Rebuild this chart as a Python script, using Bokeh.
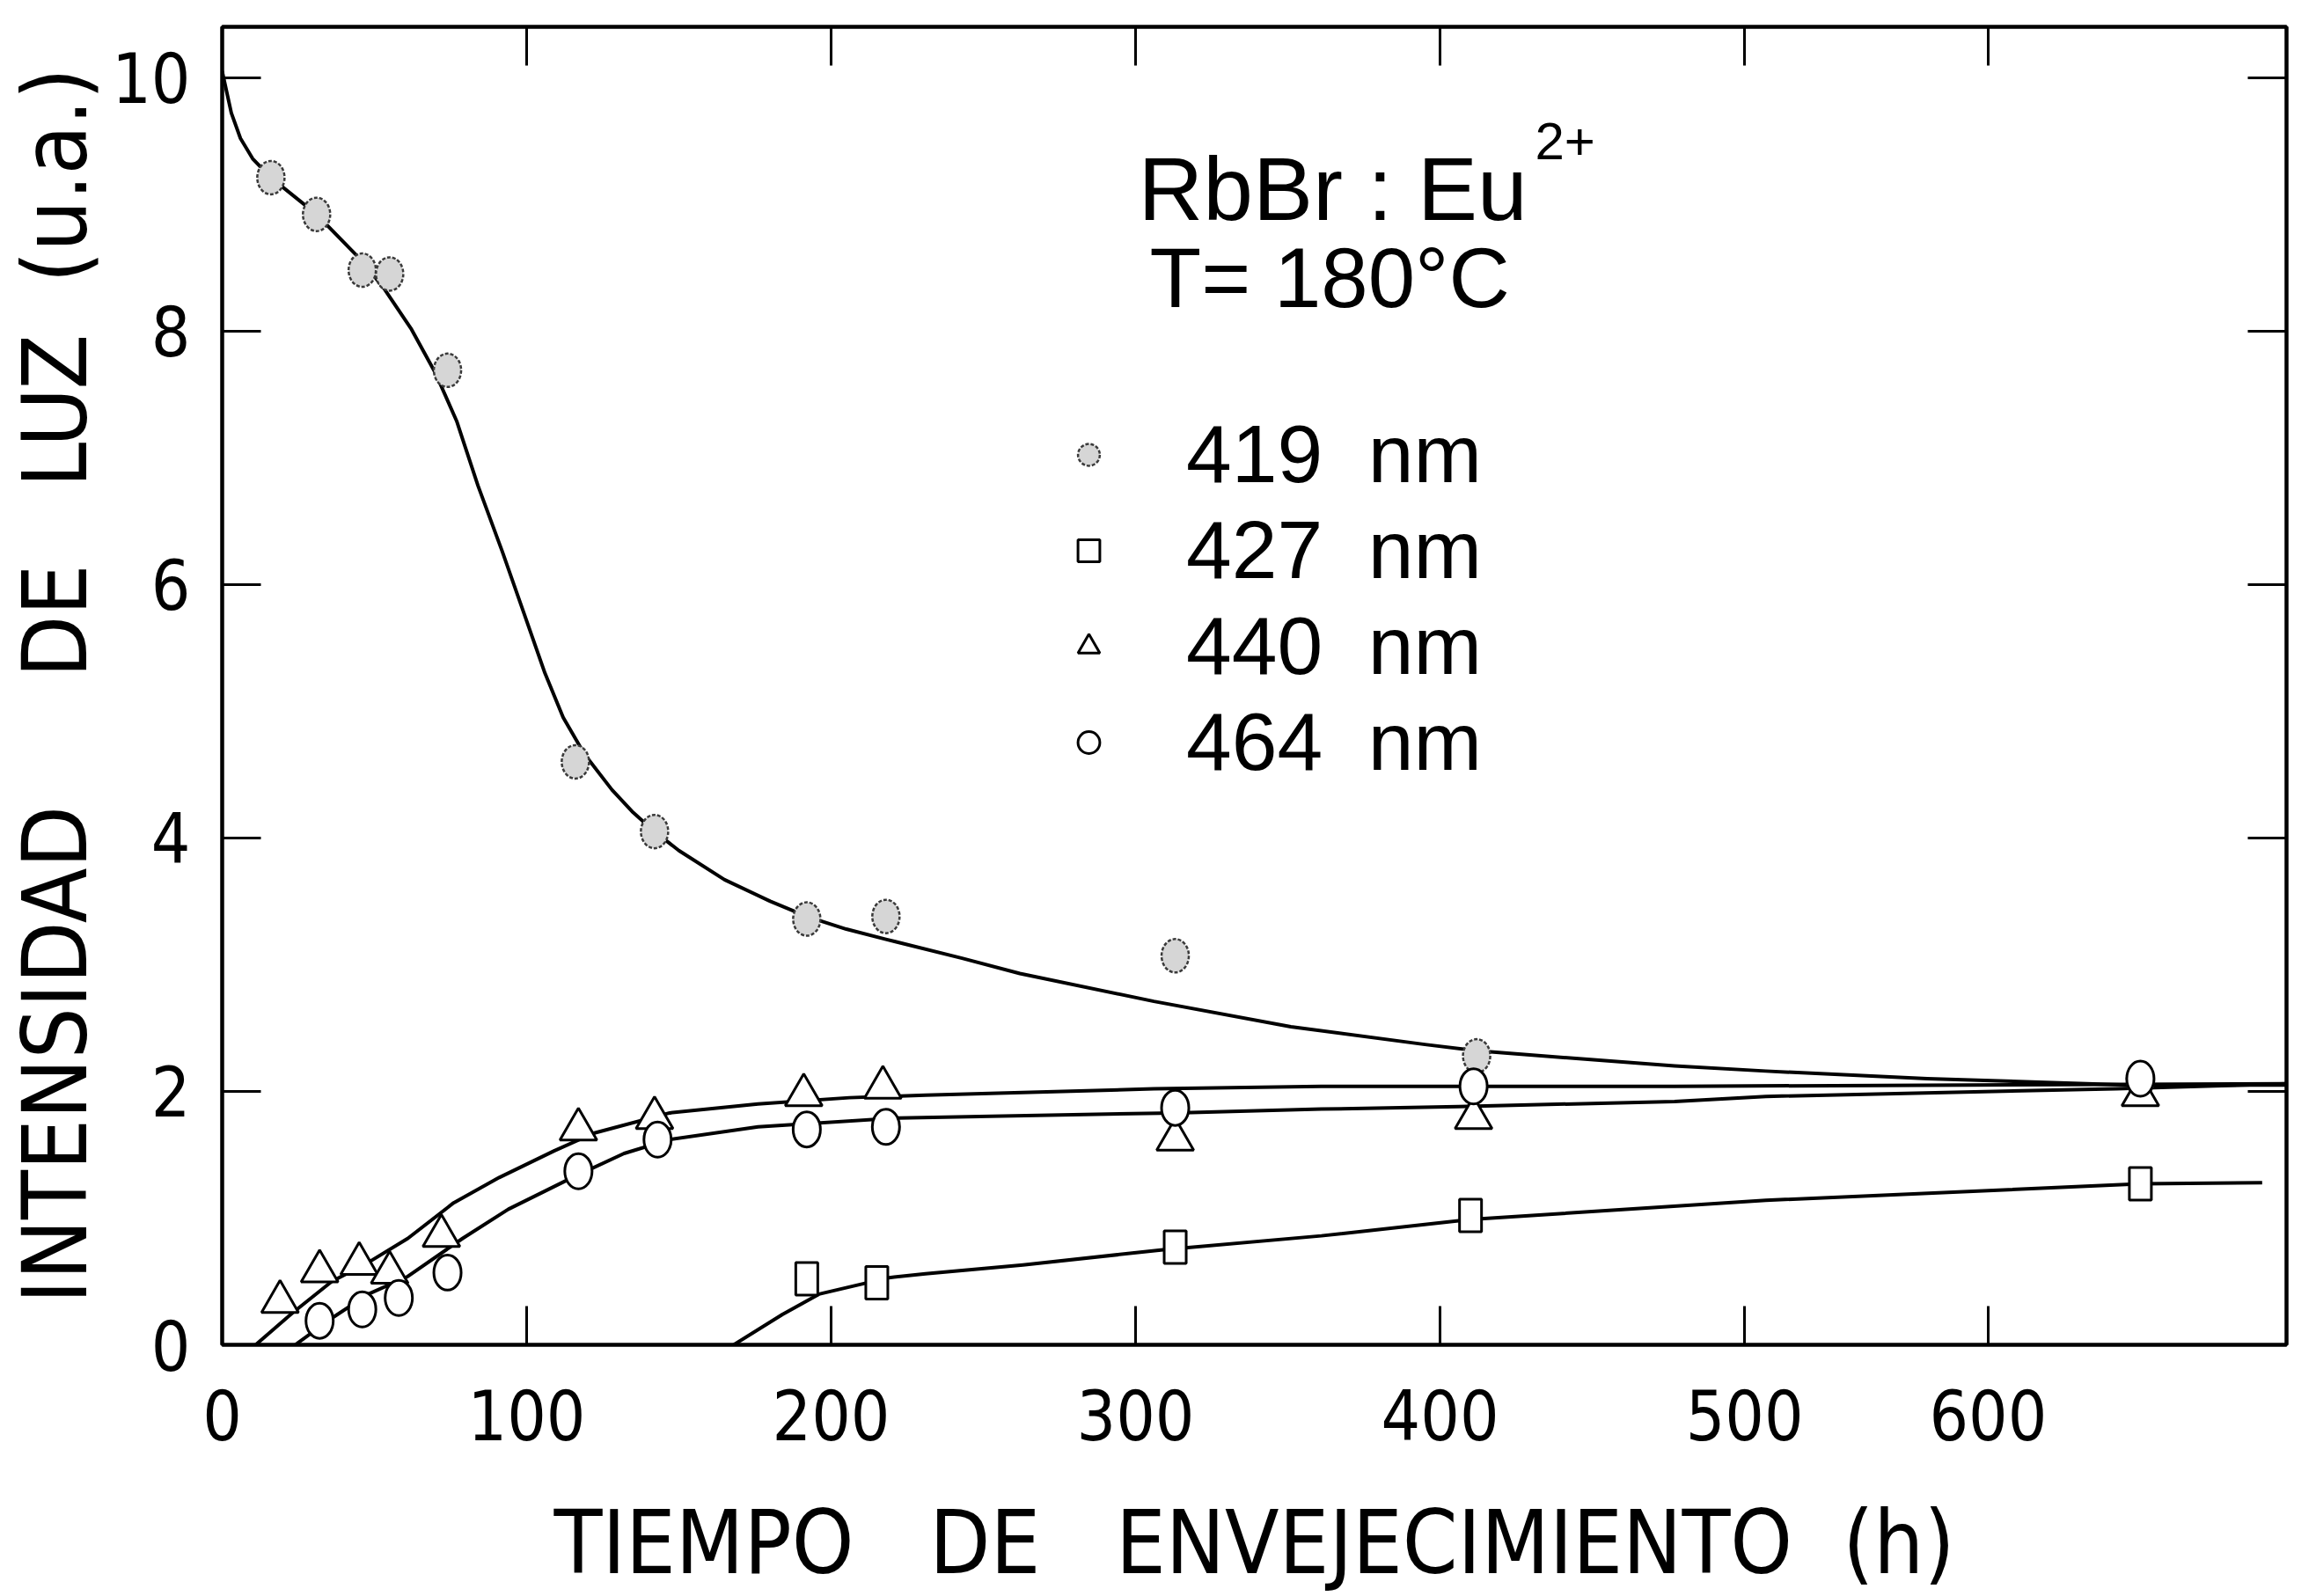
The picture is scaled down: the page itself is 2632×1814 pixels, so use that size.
from bokeh.plotting import figure
from bokeh.models import LinearAxis, FixedTicker, Range1d, Label, Legend, LegendItem
from bokeh.embed import file_html
from bokeh.resources import INLINE

# ---------------- data ----------------
# measured points: ageing time (h) and light intensity (a.u.)
t419 = [16, 31, 46, 55, 74, 116, 142, 192, 218, 313, 412, 630]
i419 = [9.21, 8.92, 8.48, 8.45, 7.69, 4.60, 4.05, 3.36, 3.38, 3.07, 2.28, 2.09]
t427 = [192, 215, 313, 410, 630]
i427 = [0.52, 0.49, 0.77, 1.02, 1.27]
t440 = [19, 32, 45, 55, 72, 117, 142, 191, 217, 313, 411, 630]
i440 = [0.34, 0.58, 0.64, 0.57, 0.86, 1.70, 1.79, 1.97, 2.03, 1.62, 1.79, 1.97]
t464 = [32, 46, 58, 74, 117, 143, 192, 218, 313, 411, 630]
i464 = [0.19, 0.28, 0.37, 0.57, 1.37, 1.62, 1.70, 1.72, 1.87, 2.04, 2.10]

# hand-drawn guide curves
c419_t = [0, 3, 6, 10, 16, 31, 46, 53, 62, 70, 77, 84, 92, 99, 106, 112, 119, 128, 135,
          142, 150, 165, 180, 192, 205, 218, 243, 262, 306, 351, 395, 412, 477, 507, 560,
          626, 679]
c419_i = [10.05, 9.72, 9.52, 9.36, 9.21, 8.92, 8.55, 8.34, 8.02, 7.67, 7.29, 6.78, 6.26,
          5.78, 5.30, 4.95, 4.66, 4.38, 4.20, 4.05, 3.90, 3.67, 3.50, 3.38, 3.28, 3.20,
          3.05, 2.93, 2.71, 2.51, 2.37, 2.32, 2.20, 2.16, 2.10, 2.05, 2.05]
c427_t = [168, 184, 196, 212, 219, 231, 263, 309, 361, 410, 507, 630, 670]
c427_i = [0.0, 0.24, 0.40, 0.49, 0.53, 0.56, 0.63, 0.75, 0.86, 0.99, 1.14, 1.27, 1.28]
c440_t = [11, 23, 36, 48, 61, 76, 91, 109, 122, 147, 176, 206, 231, 306, 361, 406, 477, 679]
c440_i = [0.0, 0.25, 0.50, 0.65, 0.84, 1.12, 1.32, 1.53, 1.67, 1.83, 1.90, 1.95, 1.97,
          2.02, 2.04, 2.04, 2.04, 2.06]
c464_t = [24, 36, 48, 61, 79, 94, 115, 132, 147, 176, 222, 313, 361, 406, 477, 507, 622, 679]
c464_i = [0.0, 0.21, 0.40, 0.54, 0.84, 1.07, 1.32, 1.51, 1.62, 1.72, 1.79, 1.83, 1.86,
          1.88, 1.92, 1.96, 2.02, 2.06]

# axis ticks (the 600 mark sits where it is drawn on the original axis)
x_ticks = [0, 100, 200, 300, 400, 500, 580]
x_tick_labels = ["0", "100", "200", "300", "400", "500", "600"]
y_ticks = [0, 2, 4, 6, 8, 10]

series_names = ["419\u00a0\u00a0nm", "427\u00a0\u00a0nm", "440\u00a0\u00a0nm", "464\u00a0\u00a0nm"]

NB = "\u00a0"
NARROW = "DejaVu Sans Condensed"
SANS = "Liberation Sans"

p = figure(width=2632, height=1814, output_backend="svg", toolbar_location=None,
           x_range=Range1d(0, 678), y_range=Range1d(0, 10.4),
           x_axis_location=None, y_axis_location=None,
           min_border_left=252, min_border_right=34, min_border_top=30, min_border_bottom=283)
p.grid.visible = False
p.outline_line_color = "black"
p.outline_line_width = 4
p.background_fill_color = "white"
p.border_fill_color = "white"

def style_axis(ax, labels=True):
    ax.axis_line_color = "black"
    ax.axis_line_width = 4
    ax.major_tick_in = 44
    ax.major_tick_out = 0
    ax.major_tick_line_width = 3
    ax.minor_tick_line_color = None
    if labels:
        ax.major_label_text_font = NARROW
        ax.major_label_text_font_size = "78px"
        ax.major_label_text_color = "black"
    else:
        ax.major_label_text_font_size = "1px"
        ax.major_label_text_color = None
        ax.major_label_standoff = 0

xb = LinearAxis(ticker=FixedTicker(ticks=x_ticks),
                major_label_overrides={t: s for t, s in zip(x_ticks, x_tick_labels)})
style_axis(xb)
xb.major_label_standoff = 50
xb.axis_label = "TIEMPO" + NB * 3 + "DE" + NB * 3 + "ENVEJECIMIENTO" + NB * 2 + "(h)"
xb.axis_label_text_font = NARROW
xb.axis_label_text_font_size = "100px"
xb.axis_label_text_font_style = "normal"
xb.axis_label_text_color = "black"
xb.axis_label_standoff = 55
p.add_layout(xb, "below")

yl = LinearAxis(ticker=FixedTicker(ticks=y_ticks))
style_axis(yl)
yl.major_label_standoff = 36
yl.axis_label = "INTENSIDAD" + NB * 5 + "DE" + NB * 3 + "LUZ" + NB * 2 + "(u.a.)"
yl.axis_label_text_font = NARROW
yl.axis_label_text_font_size = "102px"
yl.axis_label_text_font_style = "normal"
yl.axis_label_text_color = "black"
yl.axis_label_standoff = 2
p.add_layout(yl, "left")

xt = LinearAxis(ticker=FixedTicker(ticks=x_ticks))
style_axis(xt, labels=False)
p.add_layout(xt, "above")
yr = LinearAxis(ticker=FixedTicker(ticks=y_ticks))
style_axis(yr, labels=False)
p.add_layout(yr, "right")

# curves
for ct, ci in [(c419_t, c419_i), (c427_t, c427_i), (c440_t, c440_i), (c464_t, c464_i)]:
    p.line(ct, ci, line_color="black", line_width=4, line_join="round")

# markers as drawn (slightly tall, like the original plate)
p.ellipse(t419, i419, width=31, height=38, width_units="screen", height_units="screen",
          fill_color="#d6d6d6", line_color="#3a3a3a", line_width=2.5, line_dash="4 2")
p.rect(t427, i427, width=25, height=37, width_units="screen", height_units="screen",
       fill_color="white", line_color="black", line_width=3)
p.scatter(t440, i440, marker="triangle", size=42, fill_color="white",
          line_color="black", line_width=3)
p.ellipse(t464, i464, width=31, height=40, width_units="screen", height_units="screen",
          fill_color="white", line_color="black", line_width=3)

# legend symbols (same series, shown only in the key)
r419 = p.scatter(t419, i419, marker="circle", size=36, fill_color="#d6d6d6",
                 line_color="#3a3a3a", line_width=2.5, line_dash="4 2", visible=False)
r427 = p.scatter(t427, i427, marker="square", size=30, fill_color="white",
                 line_color="black", line_width=3, visible=False)
r440 = p.scatter(t440, i440, marker="triangle", size=42, fill_color="white",
                 line_color="black", line_width=3, visible=False)
r464 = p.scatter(t464, i464, marker="circle", size=34, fill_color="white",
                 line_color="black", line_width=3, visible=False)

legend = Legend(items=[LegendItem(label=n, renderers=[r]) for n, r in
                       zip(series_names, [r419, r427, r440, r464])],
                location=(954, 630), orientation="vertical",
                glyph_width=62, glyph_height=109, label_height=109, spacing=0,
                label_standoff=80, padding=0, margin=0,
                label_text_font=SANS, label_text_font_size="93px",
                label_text_color="black",
                border_line_alpha=0, background_fill_alpha=0)
p.add_layout(legend, "center")

p.add_layout(Label(x=1041, y=1314, x_units="screen", y_units="screen",
                   text="RbBr : Eu", text_font=SANS, text_font_size="102px",
                   text_baseline="alphabetic", text_color="black"))
p.add_layout(Label(x=1492, y=1368, x_units="screen", y_units="screen",
                   text="2+", text_font=SANS, text_font_size="60px",
                   text_baseline="alphabetic", text_color="black"))
p.add_layout(Label(x=1054, y=1213, x_units="screen", y_units="screen",
                   text="T= 180°C", text_font=SANS, text_font_size="96px",
                   text_baseline="alphabetic", text_color="black"))

open("out.html", "w").write(file_html(p, INLINE))
